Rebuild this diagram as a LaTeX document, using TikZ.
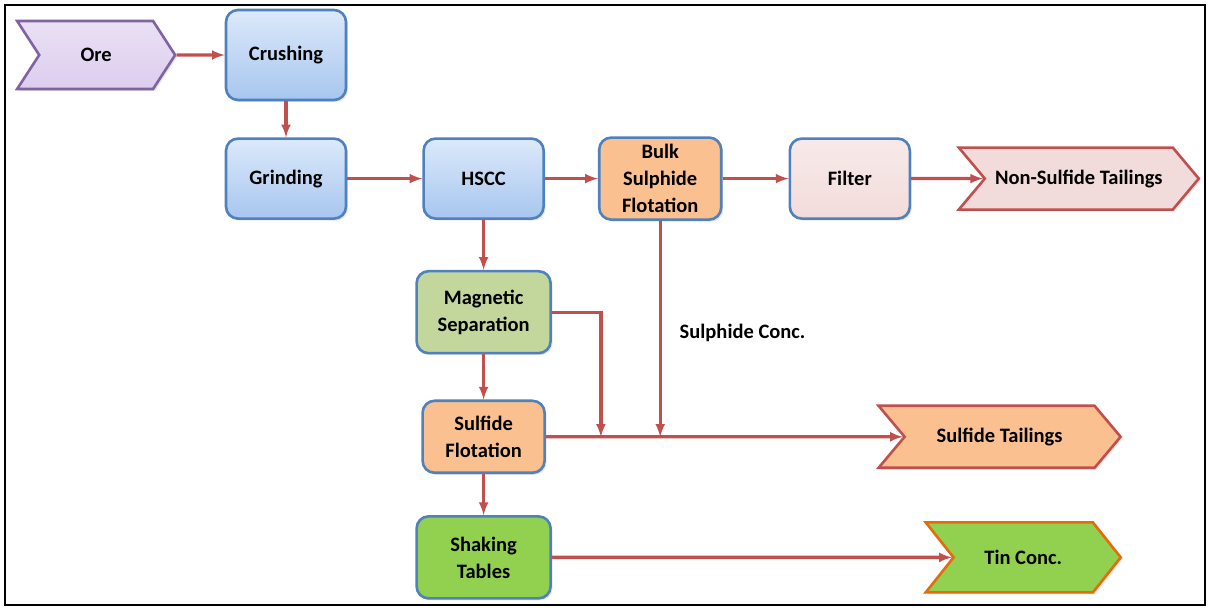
\documentclass[tikz,border=0pt]{standalone}
\usepackage{fontspec}
\setmainfont{Carlito}
\usetikzlibrary{shapes, shapes.symbols, arrows, calc, shadows, positioning}

\definecolor{boxblue}{HTML}{4F81BD}
\definecolor{lightblue}{HTML}{DCE9FA}
\definecolor{midblue}{HTML}{A7C6EF}
\definecolor{arrowred}{HTML}{C0504D}
\definecolor{orecol}{HTML}{8064A2}
\definecolor{orefill}{HTML}{DCCDEE}
\definecolor{pinkfill}{HTML}{F2DCDB}
\definecolor{orangefill}{HTML}{FAC090}
\definecolor{olivefill}{HTML}{C3D69B}
\definecolor{greenfill}{HTML}{92D050}
\definecolor{tinedge}{HTML}{E46C0A}

\tikzset{
  unit/.style={draw=boxblue, line width=2.6pt, rounded corners=12pt, minimum width=120pt,
    minimum height=80pt, align=center, inner sep=0pt,
    drop shadow={opacity=0.2, shadow xshift=2pt, shadow yshift=-2pt}},
  bluebox/.style={unit, top color=lightblue, bottom color=midblue},
  stream/.style={signal, signal from=west, signal to=east, signal pointer angle=100,
    line width=2.6pt, inner sep=0pt, minimum height=62pt,
    drop shadow={opacity=0.2, shadow xshift=2pt, shadow yshift=-2pt}},
  flow/.style={->, draw=arrowred, line width=3.3pt}
}

\begin{document}
\begin{tikzpicture}[>=latex, x=1pt, y=1pt, font=\fontsize{20.5}{27}\selectfont\bfseries]

\useasboundingbox (0,0) rectangle (1208,608);
\draw[line width=1.5pt] (5,3) rectangle (1205,603);

% main line
\node [bluebox, minimum height=90pt] (crush) at (286,553) {Crushing};
\node [stream, left=48pt of crush, draw=orecol, top color=orefill!60, bottom color=orefill,
       signal pointer angle=114, minimum width=158pt, minimum height=68pt] (ore) {Ore};
\node [bluebox, below=36pt of crush] (grind) {Grinding};
\node [bluebox, right=75pt of grind] (hscc) {HSCC};
\node [unit, fill=orangefill, right=53pt of hscc, minimum width=122pt, minimum height=82pt] (bulk) {Bulk\\Sulphide\\Flotation};
\node [unit, top color=pinkfill!60, bottom color=pinkfill, right=66pt of bulk] (filter) {Filter};
\node [stream, draw=arrowred, fill=pinkfill, right=72pt of filter, minimum width=240pt] (nstail) {Non-Sulfide Tailings};

% lower branch
\node [unit, fill=olivefill, below=50pt of hscc, minimum width=134pt, minimum height=82pt] (magsep) {Magnetic\\Separation};
\node [unit, fill=orangefill, below=45pt of magsep, minimum width=122pt, minimum height=72pt] (sulflot) {Sulfide\\Flotation};
\node [unit, fill=greenfill, below=41pt of sulflot, minimum width=134pt, minimum height=82pt] (shake) {Shaking\\Tables};
\node [stream, draw=arrowred, fill=orangefill, right=357pt of sulflot, minimum width=242pt] (stail) {Sulfide Tailings};
\node [stream, draw=tinedge, fill=greenfill, right=400pt of shake, signal pointer angle=103,
       minimum width=195pt, minimum height=70pt] (tin) {Tin Conc.};

\coordinate (j1) at ($(sulflot.east)+(55pt,0)$);
\coordinate (j2) at (bulk.south |- sulflot.east);

\draw[flow] (ore) -- (crush);
\draw[flow] (crush) -- (grind);
\draw[flow] (grind) -- (hscc);
\draw[flow] (hscc) -- (bulk);
\draw[flow] (bulk) -- (filter);
\draw[flow] (filter) -- (nstail);
\draw[flow] (hscc) -- (magsep);
\draw[flow] (magsep) -- (sulflot);
\draw[flow] (sulflot) -- (shake);
\draw[flow] (magsep.east) -| (j1);
\draw[flow] (bulk.south) -- (j2);
\draw[flow] (sulflot.east) -- (stail);
\draw[flow] (shake) -- (tin);

\node[anchor=west] (conclabel) at ($(j2)+(16pt,104pt)$) {Sulphide Conc.};

\end{tikzpicture}
\end{document}
